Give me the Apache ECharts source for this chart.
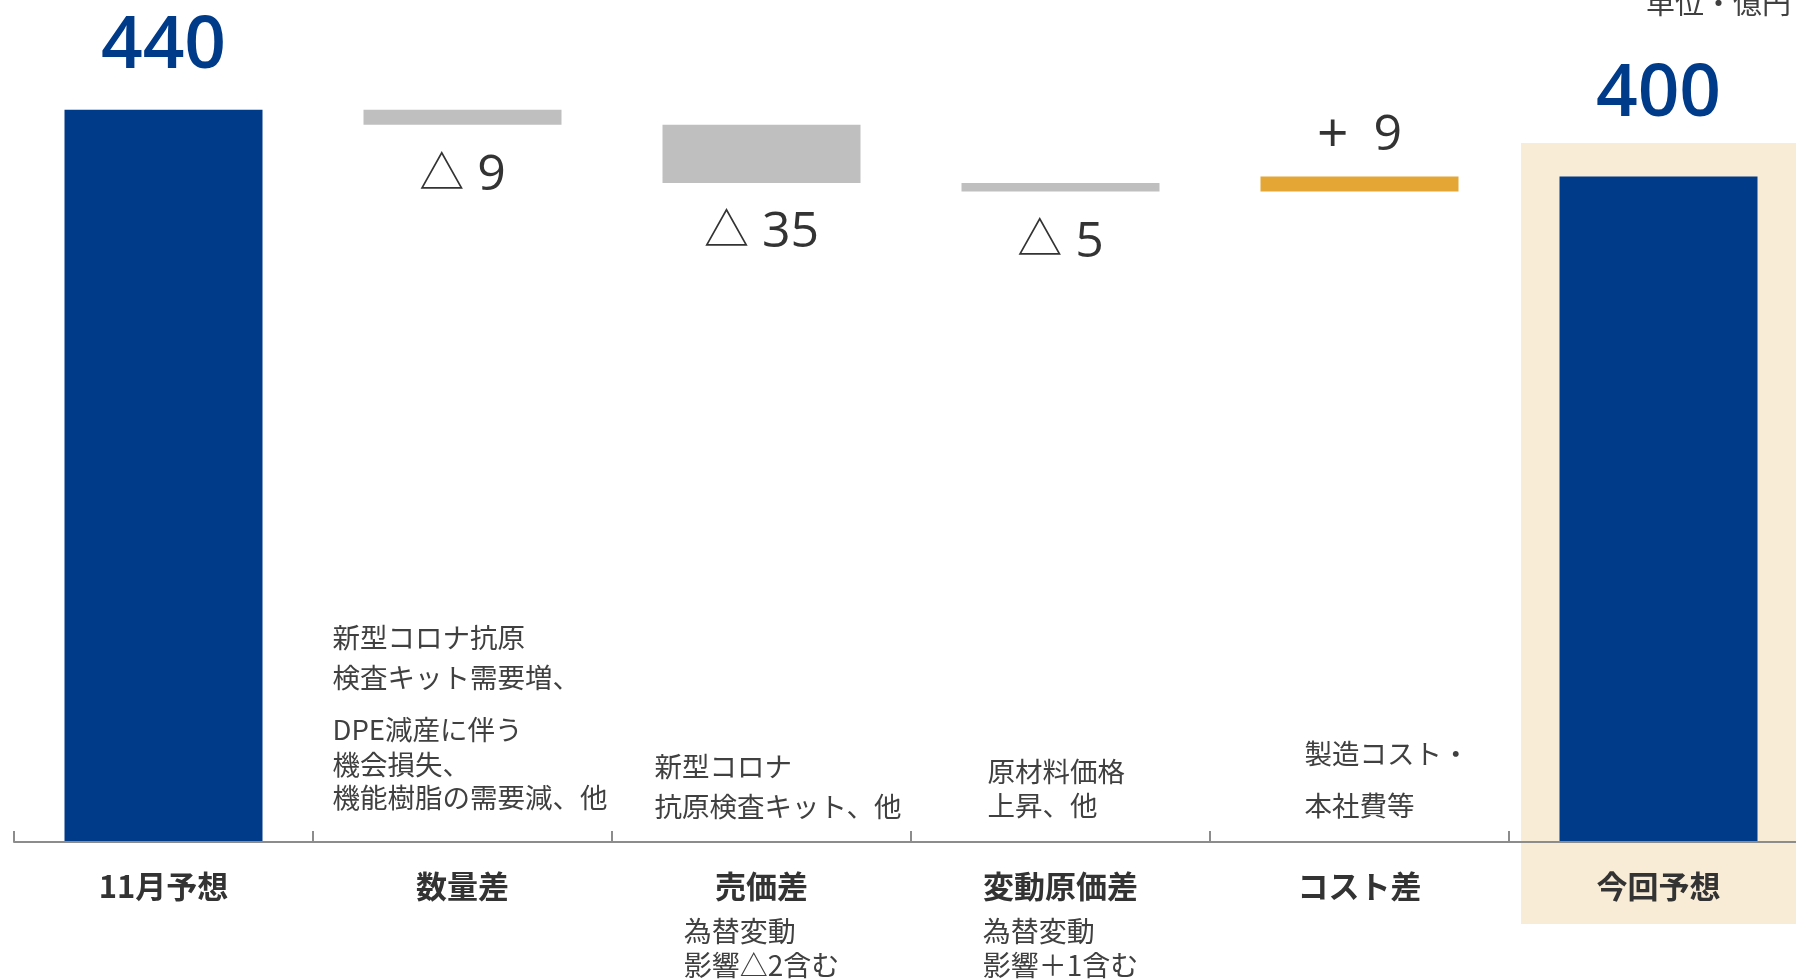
<!DOCTYPE html>
<html><head><meta charset="utf-8">
<script src="https://cdn.jsdelivr.net/npm/echarts@6/dist/echarts.min.js"></script>
<style>html,body{margin:0;padding:0;background:#fff}#c{width:1796px;height:979px}</style>
</head><body><div id="c"></div>
<script>
// ---- data ----
const categories = ['11月予想', '数量差', '売価差', '変動原価差', 'コスト差', '今回予想'];
const subLabels = [[], [], ['為替変動', '影響△2含む'], ['為替変動', '影響＋1含む'], [], []];
const startValue = 440;
const deltas = [-9, -35, -5, 9];
const endValue = 400;
const valueLabels = ['440', '△ 9', '△ 35', '△ 5', '+ 9', '400'];
const notes = [
  [],
  ['新型コロナ抗原', '検査キット需要増、', 'DPE減産に伴う', '機会損失、', '機能樹脂の需要減、他'],
  ['新型コロナ', '抗原検査キット、他'],
  ['原材料価格', '上昇、他'],
  ['製造コスト・', '本社費等'],
  []
];
const unitLabel = '単位・億円';

// ---- styles / layout ----
const NAVY = '#003B8A', GRAY = '#BFBFBF', ORANGE = '#E4A634', BEIGE = '#F8ECD6', TXT = '#333333', NOTE = '#404040';
const barColors = [NAVY, GRAY, GRAY, GRAY, ORANGE, NAVY];
const noteLeft = [0, -130, -107, -73, -55, 0];           // px from category centre
const noteLineY = [[], [-204, -164, -112, -77, -44], [-75, -35], [-70, -36], [-88, -36], []]; // px from axis
const labelDist = [26, 26, 25, 26, 13, 45];
const JP = '"Noto Sans CJK JP", "Noto Sans", sans-serif';
const NUM = '"Open Sans", "Noto Sans CJK JP", sans-serif';

// build waterfall stacks
const base = [0], visible = [startValue];
let level = startValue;
deltas.forEach(d => {
  if (d < 0) { level += d; base.push(level); visible.push(-d); }
  else { base.push(level); visible.push(d); level += d; }
});
base.push(0); visible.push(endValue);

const chart = echarts.init(document.getElementById('c'), null, {renderer: 'canvas'});

const visData = visible.map((v, i) => {
  const isTotal = (i === 0 || i === visible.length - 1);
  const neg = !isTotal && deltas[i - 1] < 0;
  const parts = valueLabels[i].split(' ');
  const isTri = parts[0] === '△';
  return {
    value: v,
    itemStyle: {color: barColors[i]},
    label: {
      show: true,
      position: neg ? 'bottom' : 'top',
      distance: labelDist[i],
      formatter: isTotal ? valueLabels[i] : ('{t|' + parts[0] + '}{n| ' + parts[1] + '}'),
      fontFamily: NUM,
      fontSize: isTotal ? 73 : 50,
      fontWeight: isTotal ? 600 : 'normal',
      color: isTotal ? NAVY : TXT,
      rich: {
        t: {fontFamily: NUM, fontSize: isTri ? 45 : 55, color: TXT, padding: isTri ? 0 : [0, 12, 0, 0]},
        n: {fontFamily: NUM, fontSize: 50, color: TXT}
      }
    }
  };
});

chart.setOption({
  animation: false,
  backgroundColor: '#fff',
  grid: {left: 14, width: 1794, top: 10, bottom: 137, containLabel: false, outerBoundsMode: 'none'},
  xAxis: {
    type: 'category',
    data: categories,
    z: 5,
    axisLine: {lineStyle: {color: '#8C8C8C', width: 2}},
    axisTick: {show: true, inside: true, length: 11, lineStyle: {color: '#8C8C8C', width: 2}},
    axisLabel: {
      interval: 0,
      margin: 16,
      formatter: (v, i) => {
        let s = '{b|' + v + '}';
        subLabels[i].forEach(t => { s += '\n{s|' + t + '}'; });
        return s;
      },
      rich: {
        b: {fontFamily: JP, fontSize: 31, fontWeight: 'bold', color: TXT, lineHeight: 56},
        s: {fontFamily: JP, fontSize: 28, color: NOTE, lineHeight: 34, align: 'left'}
      }
    }
  },
  yAxis: {type: 'value', min: 0, max: 500, show: false, splitLine: {show: false}},
  series: [
    {type: 'bar', stack: 'w', data: base, barWidth: 198, itemStyle: {color: 'transparent'}, silent: true, z: 2},
    {type: 'bar', stack: 'w', data: visData, barWidth: 198, z: 3}
  ]
});

// annotations & decoration positioned from the library's scales
const cx = i => chart.convertToPixel({xAxisIndex: 0}, i);
const axisY = chart.convertToPixel({yAxisIndex: 0}, 0);
const catW = cx(1) - cx(0);
const graphics = [];
graphics.push({
  type: 'rect', z: -1, silent: true,
  shape: {x: cx(5) - catW / 2 + 12, y: axisY - 699, width: 400, height: 781},
  style: {fill: BEIGE}
});
notes.forEach((lines, i) => {
  lines.forEach((t, j) => {
    graphics.push({
      type: 'text', z: 10,
      x: cx(i) + noteLeft[i], y: axisY + noteLineY[i][j],
      style: {text: t, fontFamily: JP, fontSize: 27.5, fill: NOTE, align: 'left', verticalAlign: 'middle'}
    });
  });
});
graphics.push({
  type: 'text', z: 10, x: 1791, y: 17,
  style: {text: unitLabel, fontFamily: JP, fontSize: 29, fill: NOTE, align: 'right', verticalAlign: 'bottom'}
});
chart.setOption({graphic: graphics});
</script>
</body></html>
